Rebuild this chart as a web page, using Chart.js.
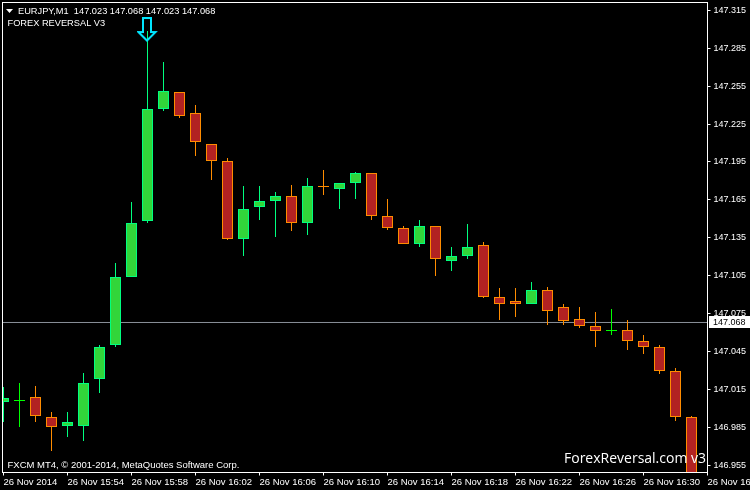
<!DOCTYPE html>
<html><head><meta charset="utf-8">
<style>html,body{margin:0;padding:0;background:#000;overflow:hidden}canvas{display:block}</style>
<script src="https://cdn.jsdelivr.net/npm/chart.js@4"></script></head>
<body><canvas id="c" width="750" height="490"></canvas>
<script>
const opens  = [147.005,147.006,147.009,146.993,146.986,146.986,147.023,147.050,147.104,147.148,147.237,147.250,147.234,147.209,147.196,147.134,147.159,147.164,147.168,147.147,147.176,147.174,147.178,147.186,147.152,147.143,147.130,147.144,147.117,147.121,147.129,147.088,147.085,147.083,147.094,147.080,147.071,147.065,147.061,147.062,147.053,147.049,147.030,146.993];
const closes = [147.008,147.007,146.994,146.985,146.989,147.020,147.049,147.104,147.147,147.237,147.251,147.231,147.211,147.196,147.134,147.158,147.164,147.168,147.147,147.176,147.175,147.178,147.186,147.152,147.143,147.130,147.144,147.118,147.121,147.128,147.088,147.083,147.083,147.094,147.077,147.069,147.065,147.061,147.062,147.053,147.049,147.030,146.993,146.945];
const highs  = [147.017,147.020,147.018,146.997,146.997,147.028,147.050,147.115,147.163,147.299,147.274,147.250,147.240,147.209,147.198,147.176,147.176,147.171,147.177,147.182,147.189,147.178,147.187,147.186,147.166,147.144,147.149,147.144,147.128,147.146,147.132,147.095,147.095,147.100,147.096,147.083,147.080,147.076,147.079,147.070,147.058,147.050,147.032,146.994];
const lows   = [146.989,146.985,146.989,146.966,146.977,146.974,147.012,147.049,147.104,147.147,147.235,147.230,147.200,147.181,147.133,147.121,147.149,147.136,147.140,147.137,147.169,147.158,147.166,147.149,147.141,147.130,147.128,147.105,147.109,147.118,147.087,147.070,147.072,147.083,147.066,147.066,147.064,147.049,147.058,147.046,147.043,147.027,146.990,146.940];
const yTicks = [147.315,147.285,147.255,147.225,147.195,147.165,147.135,147.105,147.075,147.045,147.015,146.985,146.955];
const xTickBars = [0,4,8,12,16,20,24,28,32,36,40,44];
const xTickLabels = ["26 Nov 2014","26 Nov 15:54","26 Nov 15:58","26 Nov 16:02","26 Nov 16:06","26 Nov 16:10","26 Nov 16:14","26 Nov 16:18","26 Nov 16:22","26 Nov 16:26","26 Nov 16:30","26 Nov 16:34"];
const lastPrice = 147.068;
const arrowBar = 9;
const arrowPrice = 147.2994;
const headerText = "EURJPY,M1  147.023 147.068 147.023 147.068";
const indicatorText = "FOREX REVERSAL V3";
const copyrightText = "FXCM MT4, \u00A9 2001-2014, MetaQuotes Software Corp.";
const brandText = "ForexReversal.com v3";

const UP_BODY="#32D53A", UP_LINE="#00FF7F", DOWN_BODY="#B22222", DOWN_LINE="#FF8C00", DOJI_LINE="#00FF00";
const lineColor = i => {
  const d = closes[i]-opens[i];
  if (d>0) return d<0.0015 ? DOJI_LINE : UP_LINE;
  return DOWN_LINE;
};
const wickData = highs.map((h,i)=>({x:i,y:[lows[i],h]}));
const bodyData = opens.map((o,i)=>({x:i,y:[o,closes[i]]}));

const arrowImg = document.createElement('canvas');
arrowImg.width=21; arrowImg.height=26;
(function(){
  const g=arrowImg.getContext('2d');
  g.strokeStyle='#00E5FF'; g.lineWidth=2; g.lineJoin='miter';
  g.beginPath();
  g.moveTo(6,1);g.lineTo(14,1);g.lineTo(14,15);g.lineTo(18.5,15);g.lineTo(10,23.5);g.lineTo(1.5,15);g.lineTo(6,15);g.closePath();
  g.stroke();
})();

const FONT="'Liberation Sans', Arial, sans-serif";
const overlay={
  id:'overlay',
  beforeDatasetsDraw(chart){
    chart.data.datasets.forEach((ds,k)=>{
      if(ds.type==='bar'||!ds.type){
        chart.getDatasetMeta(k).data.forEach(el=>{el.y=Math.round(el.y);el.base=Math.round(el.base);});
      }
    });
  },
  afterDraw(chart){
    const c=chart.ctx,a=chart.chartArea,y=chart.scales.y;
    c.save();
    c.strokeStyle='#fff';c.lineWidth=1;
    c.strokeRect(a.left,a.top,a.right-a.left,a.bottom-a.top);
    c.fillStyle='#fff';
    c.textBaseline='middle';c.textAlign='left';
    c.beginPath();c.moveTo(6,9);c.lineTo(13,9);c.lineTo(9.5,13);c.closePath();c.fill();
    c.font="9.25px "+FONT;
    c.fillText(headerText,18,11);
    c.fillText(indicatorText,7.5,23.5);
    c.font="9.5px "+FONT;
    c.fillText(copyrightText,7.5,465);
    c.font="14px 'Open Sans', "+FONT;
    c.fillText(brandText,564,459);
    const py=Math.round(y.getPixelForValue(lastPrice)-0.5)+0.5;
    c.fillStyle='#fff';c.fillRect(709,py-6.5,41,12);
    c.fillStyle='#000';c.font="9px "+FONT;
    c.fillText(lastPrice.toFixed(3),713,py);
    c.restore();
  }
};

new Chart(document.getElementById('c').getContext('2d'),{
  data:{datasets:[
    {type:'line',order:4,data:[{x:-0.0625,y:lastPrice},{x:44,y:lastPrice}],borderColor:'#8A9099',borderWidth:1,pointRadius:0,tension:0},
    {type:'bar',order:3,data:wickData,grouped:false,barPercentage:1,categoryPercentage:1,maxBarThickness:1,inflateAmount:0,
      backgroundColor:ctx=>lineColor(ctx.dataIndex),borderWidth:0},
    {type:'bar',order:2,data:bodyData,grouped:false,barPercentage:1,categoryPercentage:1,maxBarThickness:11,inflateAmount:0,
      backgroundColor:ctx=>closes[ctx.dataIndex]>opens[ctx.dataIndex]?UP_BODY:DOWN_BODY,
      borderColor:ctx=>lineColor(ctx.dataIndex),borderWidth:1,borderSkipped:false},
    {type:'line',order:1,data:[{x:arrowBar,y:arrowPrice}],showLine:false,pointStyle:arrowImg,pointRadius:1,pointBorderWidth:0,pointHoverRadius:1}
  ]},
  options:{
    responsive:false,animation:false,devicePixelRatio:1,
    events:[],
    layout:{padding:{left:2.5,top:2.5,right:0,bottom:0}},
    plugins:{legend:{display:false},tooltip:{enabled:false},title:{display:false}},
    scales:{
      x:{type:'linear',offset:false,min:-0.0625,max:44,
        grid:{offset:false,drawOnChartArea:false,drawTicks:true,tickLength:3,color:'#fff'},
        border:{display:false},
        afterBuildTicks(s){s.ticks=xTickBars.map(v=>({value:v}));},
        afterFit(s){s.height=17.5;s.paddingLeft=0;s.paddingRight=0;},
        ticks:{color:'#fff',font:{family:FONT,size:9.5},align:'start',autoSkip:false,maxRotation:0,minRotation:0,padding:1,
          callback(v){const i=xTickBars.indexOf(v);return i<0?'':xTickLabels[i];}}
      },
      y:{type:'linear',position:'right',min:146.9493,max:147.3212,
        grid:{drawOnChartArea:false,drawTicks:true,tickLength:3,color:'#fff'},
        border:{display:false},
        afterBuildTicks(s){s.ticks=yTicks.map(v=>({value:v}));},
        afterFit(s){s.width=42.5;s.paddingTop=0;s.paddingBottom=0;},
        ticks:{color:'#fff',font:{family:FONT,size:9},padding:3,autoSkip:false,
          callback(v){return v.toFixed(3);}}
      }
    }
  },
  plugins:[overlay]
});
</script></body></html>
